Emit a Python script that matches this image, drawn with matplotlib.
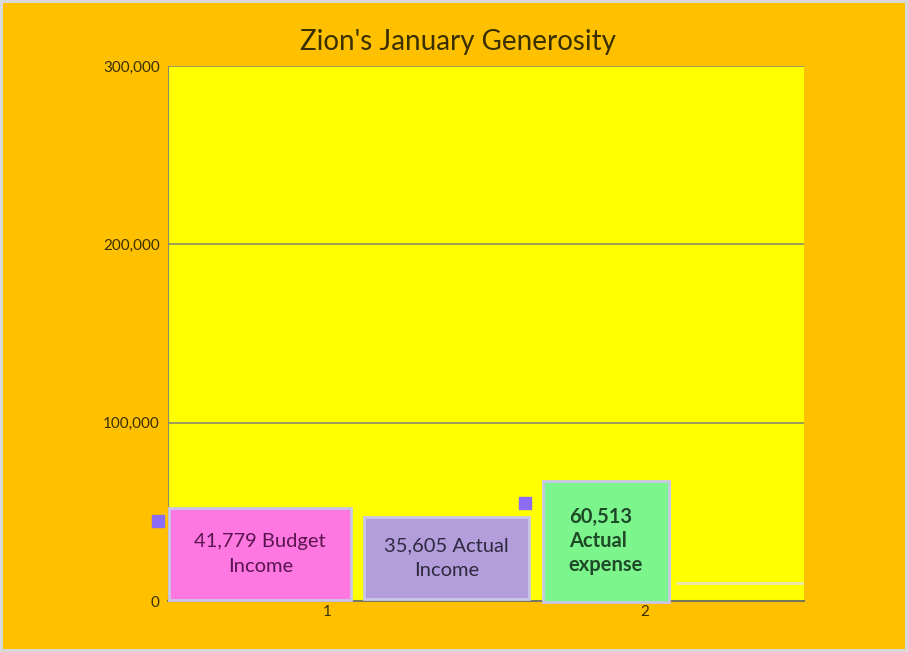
import matplotlib.pyplot as plt
from matplotlib import font_manager

# chart data
labels = ["41,779 Budget\nIncome", "35,605 Actual\nIncome", "60,513\nActual\nexpense"]
values = [41779, 35605, 60513]
bar_x = [0.79, 1.375, 1.877]
bar_w = [0.5, 0.5, 0.34]
label_y = [26300, 23900, 33400]
label_pad = [1.25, 1.0, 1.3]
label_spacing = [1.55, 1.55, 1.25]
colors = ["#FF77E1", "#B39DDB", "#7DF58D"]
text_colors = ["#5A1550", "#2E2A40", "#1E4A28"]
text_weight = ["normal", "normal", "bold"]
marker_x = [0.469, 1.623]
marker_y = [44860, 54950]
other_value = 10100
yticks = [0, 100000, 200000, 300000]
xticks = [1, 2]

names = {f.name for f in font_manager.fontManager.ttflist}
plt.rcParams['font.family'] = ['Lato' if 'Lato' in names else 'DejaVu Sans', 'DejaVu Sans']

fig = plt.figure(figsize=(9.08, 6.52), dpi=100, facecolor="#FFC000",
                 edgecolor="#D9D9D9", linewidth=3)
ax = fig.add_axes([0.185, 0.0782, 0.7005, 0.8206])
ax.set_facecolor("#FFFF00")

ax.bar(bar_x, values, width=bar_w, color=colors, zorder=2)

for x, y, txt, c, tc, w, p, ls in zip(bar_x, label_y, labels, colors, text_colors,
                                      text_weight, label_pad, label_spacing):
    ax.text(x, y, txt, ha="center", va="center", multialignment="left" if w == "bold" else "center",
            fontsize=14.5, color=tc, weight=w, zorder=4, linespacing=ls,
            bbox=dict(boxstyle=f"square,pad={p}", fc=c, ec="#C9C6E6", lw=2))

ax.scatter(marker_x, marker_y, marker="s", s=70, color="#8B6CF2", zorder=5, clip_on=False)
ax.hlines(other_value, 2.097, 2.5, color="#E9E4B0", lw=2, zorder=3)

ax.set_xlim(0.5, 2.5)
ax.set_ylim(0, 300000)
ax.set_yticks(yticks)
ax.set_yticklabels([f"{v:,}" for v in yticks])
ax.set_xticks(xticks)
ax.tick_params(length=0, labelsize=11, colors="#3A3000", pad=3)
ax.tick_params(axis="y", pad=6)
ax.grid(axis="y", color="#8C8C6A", lw=1.2, zorder=1)
ax.set_axisbelow(True)
for s in ["right", "top"]:
    ax.spines[s].set_visible(False)
ax.spines["left"].set_color("#8C8C6A")
ax.spines["bottom"].set_color("#7A7A5A")
ax.spines["bottom"].set_linewidth(1.5)

fig.text(0.504, 0.935, "Zion's January Generosity", fontsize=20, color="#3A3000",
         ha="center", va="center")

fig.savefig("out.png", dpi=100, facecolor=fig.get_facecolor(), edgecolor=fig.get_edgecolor())
